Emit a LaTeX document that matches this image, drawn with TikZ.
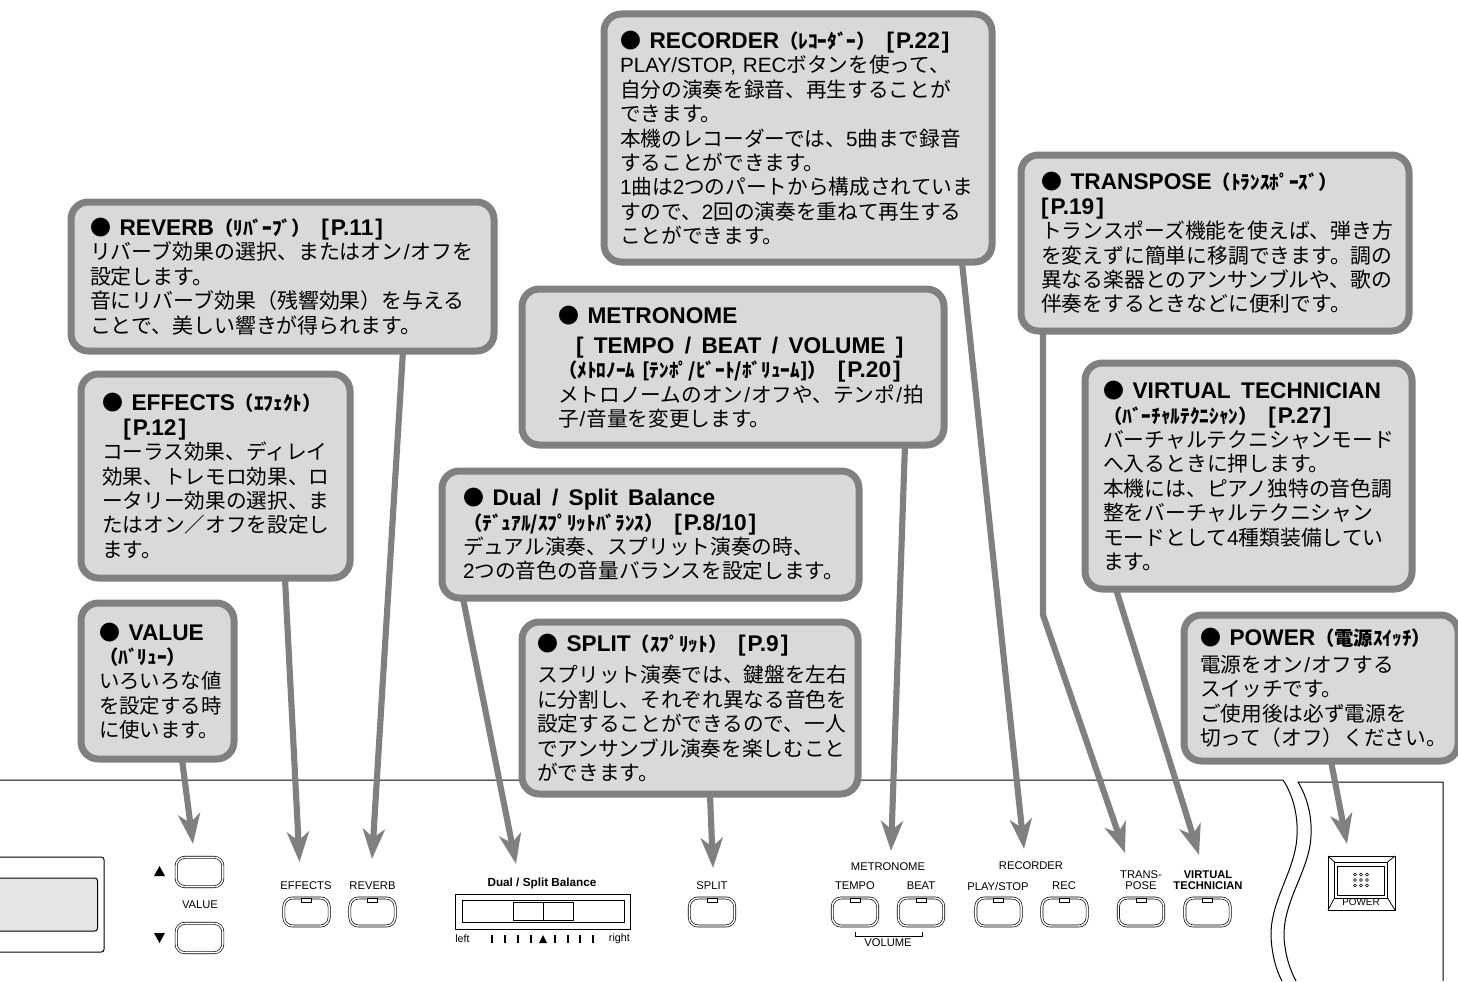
\documentclass[tikz,border=0pt]{standalone}
\usepackage{fontspec}
\setmainfont{Liberation Sans}
\newfontfamily\jp{Noto Sans CJK JP}
\newfontfamily\latn{Liberation Sans}
\usetikzlibrary{arrows.meta,calc}
\definecolor{boxgray}{HTML}{D9D9D9}
\definecolor{linegray}{HTML}{808080}
\definecolor{lcd}{HTML}{E6E6E6}
\newcommand\LaT[1]{{\latn #1}}
\newcommand\SlT{\kern.8pt{\latn /}\kern.8pt}
\newcommand\HdT[1]{{\bfseries\fontsize{17}{18.3}\selectfont\latn #1}}
\newcommand\PgT[1]{\hspace{8pt}{\bfseries\fontsize{17}{18.3}\selectfont\latn [\kern1.5pt #1\kern1.5pt]}}
\newcommand\KnT[1]{{\bfseries\fontsize{14.5}{18.3}\selectfont #1}}
\newcommand\BulT{{\fontsize{15.7}{18.3}\selectfont ●}\hspace{6.5pt}}
\newcommand\SpT{~\hspace{2.6pt}}
\newcommand\NoHy{\hyphenpenalty 10000 \exhyphenpenalty 10000 }
\newcommand\BodyAt[1]{\fontsize{#1}{18.3}\selectfont}
% name x1 y1 x2 y2 pad text
\newcommand\callout[7]{%
  \pgfmathsetmacro\cbw{(#4-#2)*.75}%
  \pgfmathsetmacro\cbh{(#5-#3)*.75}%
  \pgfmathsetmacro\cbt{(#4-#2-2*#6)*.75}%
  \pgfmathsetmacro\cbp{#6*.75}%
  \node[callbox,minimum width=\cbw pt,minimum height=\cbh pt,text width=\cbt pt,inner xsep=\cbp pt] (#1) at ({(#2+#4)/2},{(#3+#5)/2}) {#7};}
% name, centre x, centre y: key with indicator lamp
\newcommand\keybtn[3]{%
  \node[btnbox] (#1) at (#2,#3) {};
  \node[lamp,anchor=north] (#1lamp) at (#2,{#3-14.5}) {};}
% box, offset along lower edge, then path to the tip
\newcommand\conn[3]{\draw[pointer] ([xshift=#2*.75pt+2.6pt,yshift=2.5pt]#1.south west) -- (#3);}
\tikzset{
  callbox/.style={draw=linegray,fill=boxgray,line width=5.25pt,rounded corners=13pt,align=left,inner ysep=0pt,
    font=\jp\fontsize{15.5}{18.3}\selectfont\NoHy},
  pointer/.style={draw=linegray,line width=4.6pt,-{Stealth[length=22.5pt,width=16.5pt,inset=6.5pt]}},
  btnbox/.style={draw=black,double=white,line width=.5pt,double distance=1.1pt,rounded corners=6.5pt,minimum width=34pt,minimum height=21pt,inner sep=0pt},
  lamp/.style={draw=black,line width=.5pt,fill=white,minimum width=7.5pt,minimum height=3pt,inner sep=0pt},
  panel/.style={draw=black,line width=.75pt},
  lbl/.style={font=\fontsize{8.4}{8.4}\selectfont,inner sep=0pt,align=center},
  lblb/.style={font=\bfseries\fontsize{8.4}{8.4}\selectfont,inner sep=0pt,align=center},
}
\begin{document}
\begin{tikzpicture}[x=.75pt,y=-.75pt]
\useasboundingbox (0,0) rectangle (1458,981);
% panel outline
\draw[panel] (0,780) -- (1283,780) .. controls (1293,795) and (1298,815) .. (1297,835) .. controls (1296,870) and (1270,900) .. (1271,937) .. controls (1272,955) and (1276,970) .. (1282,981);
\draw[panel] (1296,981) .. controls (1290,970) and (1285,955) .. (1284,937) .. controls (1283,900) and (1310,870) .. (1311,835) .. controls (1312,815) and (1307,797) .. (1298,782) -- (1443,782) -- (1443,981);
% display
\draw[panel,rounded corners=2pt] (-5,857) -- (104,857) -- (104,952) -- (-5,952);
\draw[panel,fill=lcd,rounded corners=2pt] (-5,878) -- (97.5,878) -- (97.5,931) -- (-5,931);
% value keys
\node[btnbox,minimum width=35pt,minimum height=22pt] (valueup) at (199.5,872) {};
\node[btnbox,minimum width=35pt,minimum height=22pt] (valuedown) at (199.5,938) {};
\fill (154,876) -- (165,876) -- (159.5,866) -- cycle;
\fill (154,933) -- (165,933) -- (159.5,943) -- cycle;
\node[lbl] (valuelbl) at (200,905) {VALUE};
% keys
\keybtn{effects}{306.5}{912}
\keybtn{reverb}{372.5}{912}
\keybtn{split}{712}{912}
\keybtn{tempo}{855}{912}
\keybtn{beat}{921}{912}
\keybtn{play}{998.5}{912}
\keybtn{rec}{1064.5}{912}
\keybtn{trans}{1141}{912}
\keybtn{virtual}{1207.5}{912}
\node[lbl] (effectslbl) at (306,886) {EFFECTS};
\node[lbl] (reverblbl) at (372.5,886) {REVERB};
\node[lbl] (splitlbl) at (712,886) {SPLIT};
\node[lbl] (metrolbl) at (888,867) {METRONOME};
\node[lbl] (recorderlbl) at (1031,866) {RECORDER};
\node[lbl] (tempolbl) at (855,886) {TEMPO};
\node[lbl] (beatlbl) at (921,886) {BEAT};
\node[lbl] (playlbl) at (998,886) {PLAY/STOP};
\node[lbl] (reclbl) at (1064,886) {REC};
\node[lbl,font=\fontsize{8.4}{8.4}\selectfont] (translbl) at (1141,880.5) {TRANS-\\POSE};
\node[lblb,font=\bfseries\fontsize{8.4}{8.4}\selectfont] (virtuallbl) at (1208,880.5) {VIRTUAL\\TECHNICIAN};
\draw[panel] (855,932) -- (855,936) -- (922,936) -- (922,932);
\node[lbl] (volumelbl) at (888,943) {VOLUME};
% balance slider
\node[lblb,font=\bfseries\fontsize{8.8}{9}\selectfont] (ballbl) at (542,883) {Dual / Split Balance};
\draw[panel] (455,894) rectangle (630,929);
\draw[panel] (462,900) rectangle (624,922);
\draw[panel] (513,902) rectangle (573,920);
\draw[panel] (543,902) -- (543,920);
\node[lbl,anchor=west,font=\fontsize{8}{8}\selectfont] (leftlbl) at (455,939) {left};
\node[lbl,anchor=east,font=\fontsize{8}{8}\selectfont] (rightlbl) at (630,939) {right};
\foreach \tx in {492,505,518,531,555,568,580,593} \draw[black,line width=1.4pt] (\tx,935) -- (\tx,943);
\fill (539,943) -- (547,943) -- (543,935) -- cycle;
% power switch
\draw[panel] (1328,856) rectangle (1395,910);
\draw[panel] (1334.5,862) rectangle (1387.5,898);
\draw[panel,line width=.6pt] (1337.5,866) rectangle (1384.5,895);
\draw[panel,line width=.6pt] (1328,856) -- (1334.5,862) (1395,856) -- (1387.5,862) (1328,910) -- (1334.5,898) (1395,910) -- (1387.5,898);
\foreach \dx in {-6,0,6} \foreach \dy in {-5.5,0,5.5} \draw[black,line width=.45pt] (1361+\dx,880+\dy) circle (1.5);
\node[lbl,font=\fontsize{7.4}{8}\selectfont] (powerlbl) at (1361,902) {POWER};
% callouts
\callout{reverb box}{71}{202}{494}{351}{19}{\BodyAt{15.7}\BulT\HdT{REVERB}\KnT{（ﾘﾊﾞｰﾌﾞ）}\PgT{P.11}\\
リバーブ効果の選択、またはオン\SlT オフを\\
設定します。\\
音にリバーブ効果（残響効果）を与える\\
ことで、美しい響きが得られます。\par\vspace*{3pt}}
\callout{effects box}{81}{374}{350}{578}{21}{\BulT\HdT{EFFECTS}\KnT{（ｴﾌｪｸﾄ）}\\
\hspace*{8pt}\PgT{P.12}\\
コーラス効果、ディレイ\\
効果、トレモロ効果、ロ\\
ータリー効果の選択、ま\\
たはオン／オフを設定し\\
ます。\par\vspace*{4.5pt}}
\callout{value box}{81}{603}{234}{759}{18}{\BodyAt{15.3}\BulT\HdT{VALUE}\\
\KnT{（ﾊﾞﾘｭｰ）}\\
いろいろな値\\
を設定する時\\
に使います。}
\callout{recorder box}{604}{14}{992}{262}{16}{\BulT\HdT{RECORDER}\KnT{（ﾚｺｰﾀﾞｰ）}\PgT{P.22}\\
\LaT{PLAY/STOP, REC}ボタンを使って、\\
自分の演奏を録音、再生することが\\
できます。\\
本機のレコーダーでは、\LaT{5}曲まで録音\\
することができます。\\
\LaT{1}曲は\LaT{2}つのパートから構成されていま\\
すので、\LaT{2}回の演奏を重ねて再生する\\
ことができます。\par\vspace*{3pt}}
\callout{metronome box}{522}{289}{944}{445}{36}{\vspace*{4.5pt}\BulT\HdT{METRONOME}\\
\hspace*{13.5pt}\HdT{[\SpT TEMPO\SpT /\SpT BEAT\SpT /\SpT VOLUME\SpT ]}\\
\KnT{（ﾒﾄﾛﾉｰﾑ~[ﾃﾝﾎﾟ/ﾋﾞｰﾄ/ﾎﾞﾘｭｰﾑ]）}\PgT{P.20}\\
メトロノームのオン\SlT オフや、テンポ\SlT 拍\\
子\SlT 音量を変更します。}
\callout{dual box}{442}{471}{859}{598}{21}{\BulT\HdT{Dual\SpT /\SpT Split\SpT Balance}\\
\KnT{（ﾃﾞｭｱﾙ/ｽﾌﾟﾘｯﾄﾊﾞﾗﾝｽ）}\PgT{P.8/10}\\
デュアル演奏、スプリット演奏の時、\\
\LaT{2}つの音色の音量バランスを設定します。}
\callout{split box}{522}{622}{858}{794}{15}{\vspace*{5.25pt}\BulT\HdT{SPLIT}\KnT{（ｽﾌﾟﾘｯﾄ）}\PgT{P.9}\\
スプリット演奏では、鍵盤を左右\\
に分割し、それぞれ異なる音色を\\
設定することができるので、一人\\
でアンサンブル演奏を楽しむこと\\
ができます。}
\callout{transpose box}{1021}{155}{1409}{331}{20}{\BodyAt{15.6}\BulT\HdT{TRANSPOSE}\KnT{（ﾄﾗﾝｽﾎﾟｰｽﾞ）}\\
\HdT{\hspace*{0pt}[\kern1.5pt P.19\kern1.5pt]}\\
トランスポーズ機能を使えば、弾き方\\
を変えずに簡単に移調できます。調の\\
異なる楽器とのアンサンブルや、歌の\\
伴奏をするときなどに便利です。\par\vspace*{1pt}}
\callout{virtual box}{1085}{363}{1412}{589}{18}{\BodyAt{15.6}\BulT\HdT{VIRTUAL\SpT TECHNICIAN}\\
\KnT{（ﾊﾞｰﾁｬﾙﾃｸﾆｼｬﾝ）}\PgT{P.27}\\
バーチャルテクニシャンモード\\
へ入るときに押します。\\
本機には、ピアノ独特の音色調\\
整をバーチャルテクニシャン\\
モードとして\LaT{4}種類装備してい\\
ます。}
\callout{power box}{1184}{615}{1458}{761}{16}{\vspace*{1.5pt}\BulT\HdT{POWER}\KnT{（電源ｽｲｯﾁ）}\\
電源をオン\SlT オフする\\
スイッチです。\\
ご使用後は必ず電源を\\
切って（オフ）ください。}
% arrow tips and bends
\coordinate (tipvalue) at (193,844);
\coordinate (tipeffects) at (299.5,862);
\coordinate (tipreverb) at (372,859);
\coordinate (tipdual) at (516,864);
\coordinate (tipsplit) at (713,868);
\coordinate (tipmetro) at (891,851);
\coordinate (tiprecorder) at (1024,849);
\coordinate (bendtrans) at (1043,615);
\coordinate (tiptrans) at (1125,853);
\coordinate (tipvirtual) at (1199,855);
\coordinate (tippower) at (1347,844);
\conn{value box}{101}{tipvalue}
\conn{effects box}{204}{tipeffects}
\conn{reverb box}{332}{tipreverb}
\conn{dual box}{21}{tipdual}
\conn{split box}{188}{tipsplit}
\conn{metronome box}{383}{tipmetro}
\conn{recorder box}{358}{tiprecorder}
\draw[pointer] ([xshift=22*.75pt+2.6pt,yshift=2.5pt]transpose box.south west) -- (bendtrans) -- (tiptrans);
\conn{virtual box}{31}{tipvirtual}
\conn{power box}{147}{tippower}
\end{tikzpicture}
\end{document}
